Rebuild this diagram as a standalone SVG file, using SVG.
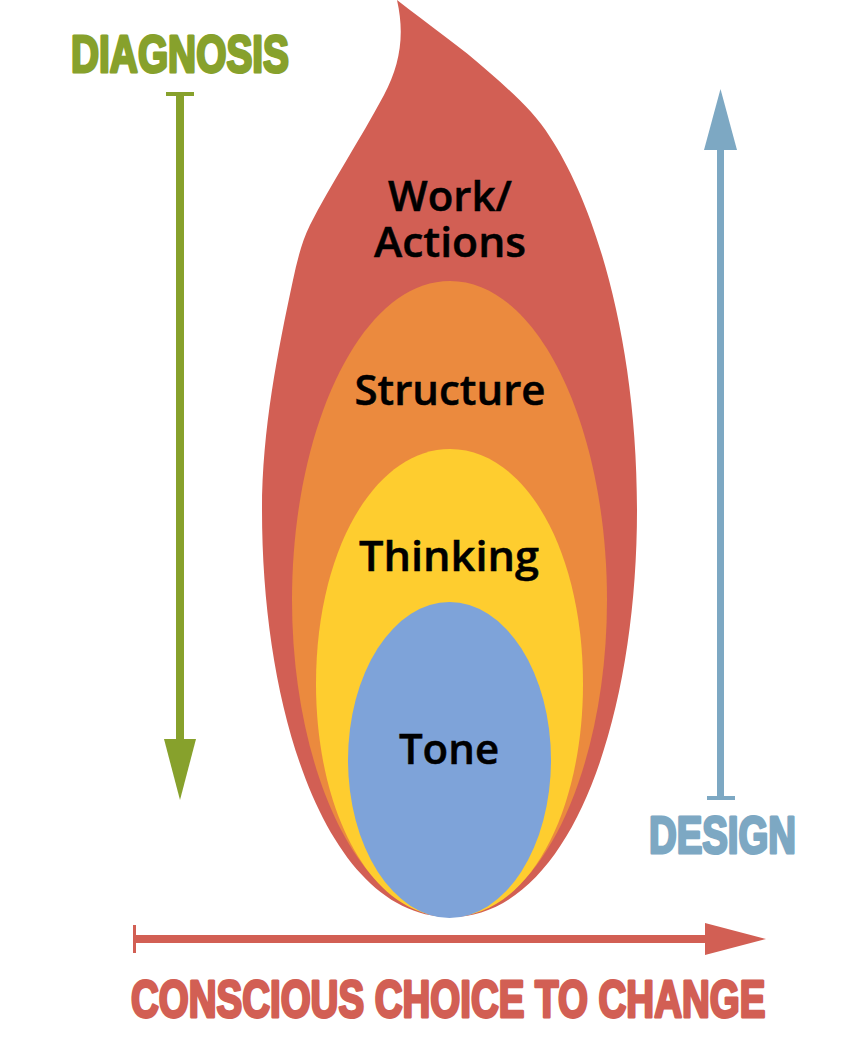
<svg xmlns="http://www.w3.org/2000/svg" width="848" height="1046" viewBox="0 0 848 1046">
<style>
.lbl{font-family:"Open Sans","Noto Sans",sans-serif;font-weight:600;font-size:42px;fill:#000;text-anchor:middle;stroke:#000;stroke-width:.5px}
.head{font-family:"Liberation Sans",Arial,sans-serif;font-weight:700;font-size:51px;stroke-width:3px;stroke-linejoin:round}
</style>
<rect width="848" height="1046" fill="#fff"/>
<g id="work-actions">
<path d="M397 0C430 26 460 46 490 73C515 95 535 113 550 137C595 205 637 340 637 510C637 720 570 917 450 917C330 917 262 720 262 510C262 430 278 350 293 280C297 261 302 241 310 225C330 185 360 140 384 95C400 65 405 35 397 0Z" fill="#d25f54"/>
<text class="lbl"><tspan x="450" y="211">Work/</tspan><tspan x="450" y="257" textLength="152" lengthAdjust="spacingAndGlyphs">Actions</tspan></text>
</g>
<g id="structure">
<path d="M450 281C540 281 607 430 607 600C607 770 540 917 450 917C360 917 292 770 292 600C292 430 360 281 450 281Z" fill="#eb8a3e"/>
<text class="lbl" x="450" y="405">Structure</text>
</g>
<g id="thinking">
<path d="M450 449C525 449 583 550 583 684C583 810 530 917 450 917C370 917 316 810 316 684C316 550 375 449 450 449Z" fill="#fecd2f"/>
<text class="lbl" x="449" y="571" textLength="180" lengthAdjust="spacingAndGlyphs">Thinking</text>
</g>
<g id="tone">
<ellipse cx="449.500" cy="760" rx="101.500" ry="158" fill="#7ea3d9"/>
<text class="lbl" x="449" y="764">Tone</text>
</g>
<g id="connectors">
<g id="diagnosis-arrow" fill="#87a12c">
<rect x="176" y="95" width="8" height="645"/>
<rect x="166" y="92" width="28" height="4"/>
<polygon points="164,739 196,739 180,800"/>
</g>
<g id="design-arrow" fill="#7da8c3">
<rect x="717" y="148" width="7" height="651"/>
<rect x="707" y="796" width="28" height="4"/>
<polygon points="704,150 737,150 720.500,89"/>
</g>
<g id="change-arrow" fill="#d25f54">
<rect x="135" y="935" width="572" height="8"/>
<rect x="133" y="925" width="3" height="28"/>
<polygon points="705,923 705,955 766,939"/>
</g>
</g>
<g id="diagnosis-label"><text class="head" x="71" y="72" textLength="218" lengthAdjust="spacingAndGlyphs" fill="#87a12c" stroke="#87a12c">DIAGNOSIS</text></g>
<g id="design-label"><text class="head" x="649" y="853" textLength="147" lengthAdjust="spacingAndGlyphs" fill="#7da8c3" stroke="#7da8c3">DESIGN</text></g>
<g id="change-label"><text class="head" transform="translate(131 1017) scale(.72 1)" x="0" y="0" textLength="881" lengthAdjust="spacingAndGlyphs" fill="#d25f54" stroke="#d25f54">CONSCIOUS CHOICE TO CHANGE</text></g>
</svg>
